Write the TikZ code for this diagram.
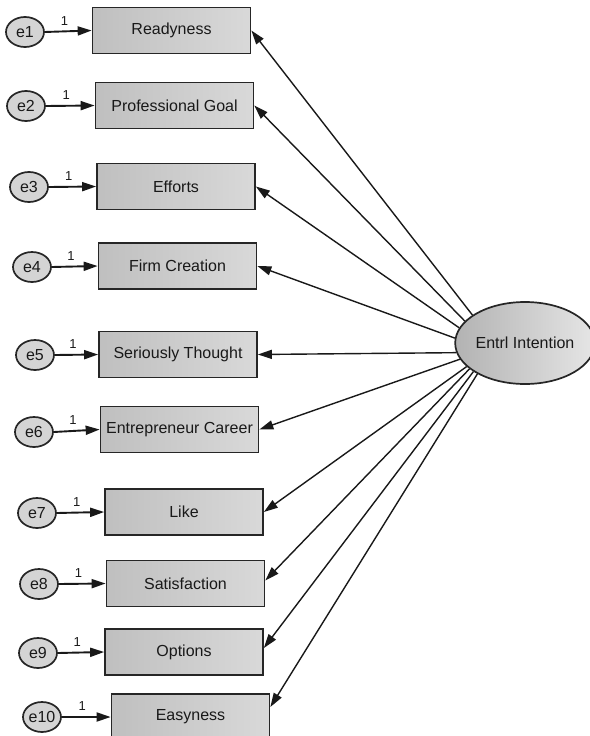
\documentclass[tikz,border=0pt]{standalone}
\usepackage{fontspec}
\setmainfont{Liberation Sans}
\usetikzlibrary{arrows.meta,shapes.geometric,calc}
\begin{document}
\begin{tikzpicture}[x=1pt,y=-1pt,
  obs/.style={draw=black!85, line width=1.7pt, left color=black!25, right color=black!15,
    minimum width=158pt, minimum height=46pt, inner sep=0pt,
    font=\fontsize{16}{19}\selectfont, text=black!90},
  err/.style={ellipse, draw=black!85, line width=1.7pt, fill=black!17,
    minimum width=38pt, minimum height=30pt, inner sep=0pt,
    font=\fontsize{16}{19}\selectfont, text=black!90},
  lat/.style={ellipse, draw=black!85, line width=1.7pt, left color=black!30, right color=black!10,
    minimum width=126pt, minimum height=82pt, inner sep=0pt,
    font=\fontsize{16}{19}\selectfont, text=black!90},
  errarr/.style={-{Triangle[length=14pt,width=9pt]}, line width=1.9pt, draw=black!90},
  loadarr/.style={-{Triangle[length=14pt,width=9pt]}, line width=1.4pt, draw=black!90},
  one/.style={font=\fontsize{13}{15}\selectfont, above=2pt, pos=0.42, text=black!90}
]
\useasboundingbox (0,0) rectangle (589,736);

% observed variables
\node[obs] (R)  at (171.5,30.5) {Readyness};
\node[obs] (P)  at (174.5,105.5) {Professional Goal};
\node[obs] (Ef) at (176,186.5) {Efforts};
\node[obs] (F)  at (177.5,266) {Firm Creation};
\node[obs] (S)  at (178,354.5) {Seriously Thought};
\node[obs] (EC) at (179.5,429.5) {Entrepreneur Career};
\node[obs] (L)  at (184,512) {Like};
\node[obs] (Sa) at (185.5,583.5) {Satisfaction};
\node[obs] (O)  at (184,652) {Options};
\node[obs] (Ea) at (190.5,717) {Easyness};

% error terms
\node[err] (e1)  at (25,32)  {e1};
\node[err] (e2)  at (26,106) {e2};
\node[err] (e3)  at (29,187) {e3};
\node[err] (e4)  at (32,267) {e4};
\node[err] (e5)  at (35,355) {e5};
\node[err] (e6)  at (34,432) {e6};
\node[err] (e7)  at (37,513) {e7};
\node[err] (e8)  at (39,584) {e8};
\node[err] (e9)  at (38,653) {e9};
\node[err] (e10) at (42,717) {e10};

% latent variable
\node[lat] (EI) at (525,343) {Entrl Intention};

% error paths
\foreach \e/\b in {e1/R,e2/P,e3/Ef,e4/F,e5/S,e6/EC,e7/L,e8/Sa,e9/O,e10/Ea}{
  \draw[errarr] (\e.east) -- node[one] {1} (\b.west);
}

% loadings
\draw[loadarr] (EI.152.5) -- (R.east);
\draw[loadarr] (EI.160) -- (P.east);
\draw[loadarr] (EI.167) -- (Ef.east);
\draw[loadarr] (EI.176) -- (F.east);
\draw[loadarr] (EI.188) -- (S.east);
\draw[loadarr] (EI.194.5) -- (EC.east);
\draw[loadarr] (EI.202.8) -- (L.east);
\draw[loadarr] (EI.205.7) -- ($(Sa.east)+(0,-3)$);
\draw[loadarr] (EI.209.4) -- ($(O.east)+(0,-4)$);
\draw[loadarr] (EI.213.7) -- ($(Ea.east)+(0,-10)$);
\end{tikzpicture}
\end{document}
